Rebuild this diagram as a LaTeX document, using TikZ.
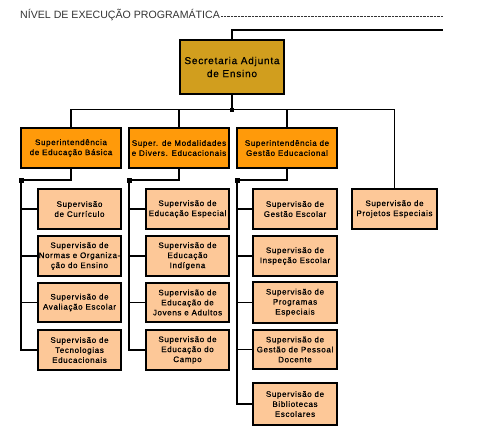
\documentclass[tikz,border=0pt]{standalone}
\usepackage{fontspec}
\setmainfont{Liberation Sans}
\newfontfamily\boxfont{Liberation Sans}[LetterSpace=8,FakeBold=0.8]
\usetikzlibrary{calc}
\definecolor{secfill}{HTML}{D19E1E}
\definecolor{supfill}{HTML}{FF9A0A}
\definecolor{subfill}{HTML}{FDC898}
\definecolor{titlecol}{HTML}{333333}
\tikzset{
  base/.style={draw=black, line width=1.6pt, align=center, inner sep=0pt, text=black},
  secbox/.style={base, fill=secfill, minimum width=104pt, minimum height=54pt,
    font=\boxfont\fontsize{10}{13}\selectfont},
  supbox/.style={base, fill=supfill, minimum width=100pt, minimum height=40pt,
    font=\boxfont\fontsize{8}{10}\selectfont},
  subbox/.style={base, fill=subfill, minimum width=83pt, minimum height=40pt,
    font=\boxfont\fontsize{8}{10}\selectfont},
  conn/.style={draw=black, line width=1.1pt},
  colline/.style={draw=black, line width=1.8pt}
}
\begin{document}
\begin{tikzpicture}[x=1pt,y=-1pt]
\useasboundingbox (0,0) rectangle (489,431);
% title
\node[anchor=west, inner sep=0pt, text=titlecol, font=\fontsize{10.6}{12}\selectfont] (title) at (20,15) {NÍVEL DE EXECUÇÃO PROGRAMÁTICA};
\coordinate (dotend) at (443,15);
\draw[black!80, line width=0.8pt, dash pattern=on 0.7pt off 0.7pt] ($(title.east)+(1,1)$) -- (dotend |- {$(title.east)+(1,1)$});
% secretaria
\node[secbox] (sec) at (232,67) {Secretaria Adjunta\\de Ensino};
\coordinate (topR) at (443,30);
\draw[black, line width=2.2pt] (sec.north) |- (topR);
\coordinate (hub) at ($(sec.south)+(0,15)$);
% superintendencias
\node[supbox] (s1) at (71,148) {Superintendência\\de Educação Básica};
\node[supbox] (s2) at (179,148) {Super. de Modalidades\\e Divers. Educacionais};
\node[supbox] (s3) at (287,148) {Superintendência de\\Gestão Educacional};
\node[subbox, minimum width=85pt] (pe) at (394.5,209) {Supervisão de\\Projetos Especiais};
\draw[conn] (sec.south) -- (hub);
\draw[conn] (s1.north) |- (hub -| pe.north) -- (pe.north);
\draw[conn] (s2.north) -- (s2.north |- hub);
\draw[conn] (s3.north) -- (s3.north |- hub);
\filldraw[black] ($(hub)+(-1.5,-1.5)$) rectangle ($(hub)+(1.5,1.5)$);
% column 1
\node[subbox] (a1) at (79.5,209) {Supervisão\\de Currículo};
\node[subbox] (a2) at (79.5,256) {Supervisão de\\Normas e Organiza-\\ção do Ensino};
\node[subbox, minimum height=39pt] (a3) at (79.5,302.5) {Supervisão de\\Avaliação Escolar};
\node[subbox] (a4) at (79.5,350) {Supervisão de\\Tecnologias\\Educacionais};
\coordinate (c1) at (21,180);
\draw[colline] (s1.south) |- (c1) -- (c1 |- a4.west) -- (a4.west);
\draw[colline] (c1 |- a1.west) -- (a1.west);
\draw[colline] (c1 |- a2.west) -- (a2.west);
\draw[colline] (c1 |- a3.west) -- (a3.west);
\filldraw[black] ($(c1)+(-1.8,-1.8)$) rectangle ($(c1)+(1.8,1.8)$);
% column 2
\node[subbox] (b1) at (187.5,209) {Supervisão de\\Educação Especial};
\node[subbox] (b2) at (187.5,256) {Supervisão de\\Educação\\Indígena};
\node[subbox, minimum height=39pt] (b3) at (187.5,302.5) {Supervisão de\\Educação de\\Jovens e Adultos};
\node[subbox] (b4) at (187.5,350) {Supervisão de\\Educação do\\Campo};
\coordinate (c2) at (129,180);
\draw[colline] (s2.south) |- (c2) -- (c2 |- b4.west) -- (b4.west);
\draw[colline] (c2 |- b1.west) -- (b1.west);
\draw[colline] (c2 |- b2.west) -- (b2.west);
\draw[colline] (c2 |- b3.west) -- (b3.west);
\filldraw[black] ($(c2)+(-1.8,-1.8)$) rectangle ($(c2)+(1.8,1.8)$);
% column 3
\node[subbox, minimum width=84pt] (d1) at (295,209) {Supervisão de\\Gestão Escolar};
\node[subbox, minimum width=84pt] (d2) at (295,256) {Supervisão de\\Inspeção Escolar};
\node[subbox, minimum width=84pt, minimum height=41pt] (d3) at (295,302.5) {Supervisão de\\Programas\\Especiais};
\node[subbox, minimum width=84pt, minimum height=39pt] (d4) at (295,349.5) {Supervisão de\\Gestão de Pessoal\\Docente};
\node[subbox, minimum width=84pt, minimum height=42pt] (d5) at (295,404) {Supervisão de\\Bibliotecas\\Escolares};
\coordinate (c3) at (237,180);
\draw[colline] (s3.south) |- (c3) -- (c3 |- d5.west) -- (d5.west);
\draw[colline] (c3 |- d1.west) -- (d1.west);
\draw[colline] (c3 |- d2.west) -- (d2.west);
\draw[colline] (c3 |- d3.west) -- (d3.west);
\draw[colline] (c3 |- d4.west) -- (d4.west);
\filldraw[black] ($(c3)+(-1.8,-1.8)$) rectangle ($(c3)+(1.8,1.8)$);
\end{tikzpicture}
\end{document}
